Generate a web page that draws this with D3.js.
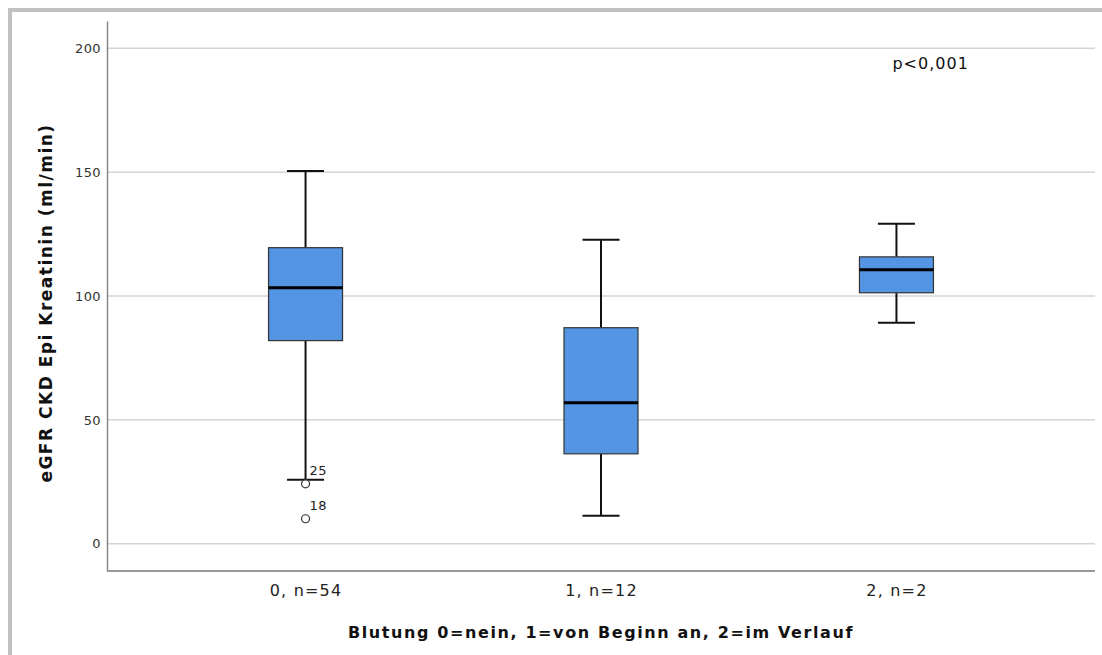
<!DOCTYPE html>
<html>
<head>
<meta charset="utf-8">
<script src="https://cdn.jsdelivr.net/npm/d3@7"></script>
<style>
  body { margin: 0; background: #fff; }
  svg text { font-family: "DejaVu Sans", sans-serif; }
</style>
</head>
<body>
<div id="chart"></div>
<script>
const WIDTH = 1102;
const HEIGHT = 655;
const MARGIN = {top: 21, right: 7, bottom: 84, left: 107};

// Daten
const categories = ['0, n=54', '1, n=12', '2, n=2'];
const whiskerLow = [25.8, 11.3, 89.2];
const q1 = [82.0, 36.3, 101.3];
const median = [103.3, 56.9, 110.6];
const q3 = [119.5, 87.2, 115.8];
const whiskerHigh = [150.5, 122.7, 129.2];
const outlierGroup = [0, 0];
const outlierValue = [24.2, 10.1];
const outlierLabel = ['25', '18'];
const yTicks = [0, 50, 100, 150, 200];

const BOX_COLOR = '#5394e3';

const svg = d3.select('#chart').append('svg')
  .attr('width', WIDTH)
  .attr('height', HEIGHT);

// Rahmen
svg.append('rect').attr('x', 8).attr('y', 8).attr('width', WIDTH - 8).attr('height', 4).attr('fill', '#c0c0c0');
svg.append('rect').attr('x', 8).attr('y', 8).attr('width', 4).attr('height', HEIGHT - 8).attr('fill', '#c0c0c0');

const width = WIDTH - MARGIN.left - MARGIN.right;
const height = HEIGHT - MARGIN.top - MARGIN.bottom;

const g = svg.append('g')
  .attr('transform', 'translate(' + MARGIN.left + ',' + MARGIN.top + ')');

const x = d3.scalePoint()
  .domain(categories)
  .range([0, width])
  .padding(0.672);

const y = d3.scaleLinear()
  .domain([-11, 211])
  .range([height, 0]);

// Gitterlinien
g.append('g')
  .selectAll('line')
  .data(yTicks)
  .join('line')
  .attr('x1', 0)
  .attr('x2', width)
  .attr('y1', d => y(d))
  .attr('y2', d => y(d))
  .attr('stroke', '#d4d4d4')
  .attr('stroke-width', 1.5);

// y-Achse
const yAxis = d3.axisLeft(y).tickValues(yTicks).tickSize(0).tickPadding(6);
const yg = g.append('g').attr('class', 'y-axis').call(yAxis);
yg.select('.domain').attr('stroke', '#888').attr('stroke-width', 1.5);
yg.selectAll('text').attr('font-size', 13).attr('letter-spacing', 0.4).attr('fill', '#333');

// x-Achse
const xAxis = d3.axisBottom(x).tickSize(0).tickPadding(14);
const xg = g.append('g')
  .attr('class', 'x-axis')
  .attr('transform', 'translate(0,' + height + ')')
  .call(xAxis);
xg.select('.domain').attr('d', 'M0,0H' + width).attr('stroke', '#999').attr('stroke-width', 2);
xg.selectAll('text').attr('font-size', 16).attr('letter-spacing', 1.2).attr('fill', '#222');

const BOX_W = 74;
const CAP_W = 37;

const boxes = g.selectAll('.box')
  .data(categories)
  .join('g')
  .attr('class', 'box');

boxes.append('line')
  .attr('x1', d => x(d)).attr('x2', d => x(d))
  .attr('y1', (d, i) => y(whiskerHigh[i]))
  .attr('y2', (d, i) => y(q3[i]))
  .attr('stroke', '#111').attr('stroke-width', 2);

boxes.append('line')
  .attr('x1', d => x(d)).attr('x2', d => x(d))
  .attr('y1', (d, i) => y(q1[i]))
  .attr('y2', (d, i) => y(whiskerLow[i]))
  .attr('stroke', '#111').attr('stroke-width', 2);

boxes.append('line')
  .attr('x1', d => x(d) - CAP_W / 2).attr('x2', d => x(d) + CAP_W / 2)
  .attr('y1', (d, i) => y(whiskerHigh[i]))
  .attr('y2', (d, i) => y(whiskerHigh[i]))
  .attr('stroke', '#111').attr('stroke-width', 2);

boxes.append('line')
  .attr('x1', d => x(d) - CAP_W / 2).attr('x2', d => x(d) + CAP_W / 2)
  .attr('y1', (d, i) => y(whiskerLow[i]))
  .attr('y2', (d, i) => y(whiskerLow[i]))
  .attr('stroke', '#111').attr('stroke-width', 2);

boxes.append('rect')
  .attr('x', d => x(d) - BOX_W / 2)
  .attr('width', BOX_W)
  .attr('y', (d, i) => y(q3[i]))
  .attr('height', (d, i) => y(q1[i]) - y(q3[i]))
  .attr('fill', BOX_COLOR)
  .attr('stroke', '#333')
  .attr('stroke-width', 1.2);

boxes.append('line')
  .attr('x1', d => x(d) - BOX_W / 2).attr('x2', d => x(d) + BOX_W / 2)
  .attr('y1', (d, i) => y(median[i]))
  .attr('y2', (d, i) => y(median[i]))
  .attr('stroke', '#000').attr('stroke-width', 3);

// Ausreißer
g.selectAll('.outlier')
  .data(outlierValue)
  .join('circle')
  .attr('class', 'outlier')
  .attr('cx', (d, i) => x(categories[outlierGroup[i]]))
  .attr('cy', d => y(d))
  .attr('r', 4)
  .attr('fill', '#fff')
  .attr('stroke', '#333')
  .attr('stroke-width', 1.2);

g.selectAll('.outlier-label')
  .data(outlierValue)
  .join('text')
  .attr('class', 'outlier-label')
  .attr('x', (d, i) => x(categories[outlierGroup[i]]) + 4)
  .attr('y', d => y(d) - 9)
  .attr('font-size', 13)
  .attr('letter-spacing', 0.4)
  .attr('fill', '#222')
  .text((d, i) => outlierLabel[i]);

// p-Wert
g.append('text')
  .attr('x', x(categories[2]) - 4)
  .attr('y', y(200) + 21)
  .attr('font-size', 16)
  .attr('letter-spacing', 1)
  .attr('fill', '#111')
  .text('p<0,001');

// Achsentitel
svg.append('text')
  .attr('x', MARGIN.left + x(categories[1]))
  .attr('y', 638)
  .attr('text-anchor', 'middle')
  .attr('font-size', 16)
  .attr('font-weight', 'bold')
  .attr('letter-spacing', 1.6)
  .attr('fill', '#111')
  .text('Blutung 0=nein, 1=von Beginn an, 2=im Verlauf');

svg.append('text')
  .attr('transform', 'translate(52,303) rotate(-90)')
  .attr('text-anchor', 'middle')
  .attr('font-size', 17)
  .attr('font-weight', 'bold')
  .attr('letter-spacing', 1.5)
  .attr('fill', '#111')
  .text('eGFR CKD Epi Kreatinin (ml/min)');
</script>
</body>
</html>
